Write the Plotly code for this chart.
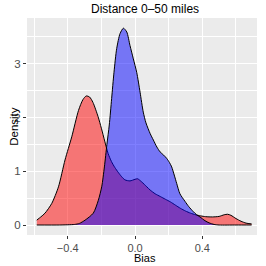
import plotly.graph_objects as go

# Red density (x, y)
red_x = [-0.584, -0.56, -0.535, -0.495, -0.455, -0.416, -0.376, -0.336, -0.31, -0.29, -0.27,
         -0.25, -0.22, -0.20, -0.18, -0.16, -0.14, -0.12, -0.10, -0.08, -0.06, -0.03, 0.0,
         0.015, 0.04, 0.07, 0.09, 0.12, 0.15, 0.18, 0.21, 0.24, 0.27, 0.30, 0.33, 0.36, 0.39,
         0.42, 0.46, 0.50, 0.53, 0.55, 0.57, 0.60, 0.63, 0.66, 0.693]
red_y = [0.09, 0.15, 0.22, 0.40, 0.71, 1.21, 1.64, 2.13, 2.33, 2.40, 2.38,
         2.28, 2.02, 1.80, 1.56, 1.33, 1.18, 1.07, 0.98, 0.90, 0.84, 0.82, 0.85,
         0.86, 0.80, 0.71, 0.65, 0.58, 0.53, 0.48, 0.43, 0.37, 0.31, 0.26, 0.22, 0.19, 0.17,
         0.155, 0.15, 0.16, 0.19, 0.20, 0.18, 0.12, 0.07, 0.035, 0.02]

# Blue density (x, y)
blue_x = [-0.584, -0.45, -0.36, -0.33, -0.297, -0.248, -0.218, -0.198, -0.182, -0.167, -0.153,
          -0.139, -0.125, -0.109, -0.089, -0.069, -0.049, -0.03, -0.01, 0.01, 0.03, 0.049,
          0.065, 0.09, 0.109, 0.13, 0.149, 0.17, 0.188, 0.205, 0.218, 0.233, 0.248, 0.267,
          0.297, 0.32, 0.346, 0.366, 0.386, 0.416, 0.44, 0.47, 0.50, 0.60, 0.693]
blue_y = [0.0, 0.0, 0.01, 0.03, 0.09, 0.22, 0.46, 0.71, 1.08, 1.50, 1.86,
          2.35, 2.84, 3.28, 3.56, 3.66, 3.59, 3.34, 3.09, 2.84, 2.47, 2.10,
          1.90, 1.70, 1.58, 1.45, 1.36, 1.30, 1.24, 1.16, 1.08, 0.93, 0.77, 0.58,
          0.44, 0.34, 0.25, 0.19, 0.15, 0.08, 0.04, 0.01, 0.0, 0.0, 0.0]

x_ticks = [-0.4, 0.0, 0.4]
x_labels = ["\u22120.4", "0.0", "0.4"]
y_ticks = [0, 1, 2, 3]
y_labels = ["0", "1", "2", "3"]

title_text = "Distance 0\u201350 miles"
x_title = "Bias"
y_title = "Density"

FONT = "Liberation Sans, Arial, sans-serif"

fig = go.Figure()
fig.add_trace(go.Scatter(x=red_x, y=red_y, mode="lines", fill="tozeroy",
                         fillcolor="rgba(255,0,0,0.5)",
                         line=dict(color="black", width=1, shape="spline", smoothing=0.7),
                         hoverinfo="skip", showlegend=False))
fig.add_trace(go.Scatter(x=blue_x, y=blue_y, mode="lines", fill="tozeroy",
                         fillcolor="rgba(0,0,255,0.5)",
                         line=dict(color="black", width=1, shape="spline", smoothing=0.7),
                         hoverinfo="skip", showlegend=False))

fig.update_layout(
    template="none",
    width=266, height=266,
    margin=dict(l=27, r=9, t=17.5, b=31, pad=0),
    paper_bgcolor="white", plot_bgcolor="#EBEBEB",
    font=dict(family=FONT),
    xaxis=dict(range=[-0.642, 0.725], tickmode="array", tickvals=x_ticks, ticktext=x_labels,
               automargin=False,
               showgrid=True, gridcolor="white", gridwidth=1.1, zeroline=False,
               ticks="outside", ticklen=3, tickcolor="#333333", tickwidth=1,
               tickfont=dict(size=11, color="#4D4D4D", family=FONT),
               minor=dict(tickmode="array", tickvals=[-0.6, -0.2, 0.2, 0.6], showgrid=True,
                          gridcolor="white", gridwidth=0.5, ticks=""),
               showline=False, fixedrange=True),
    yaxis=dict(range=[-0.186, 3.85], tickmode="array", tickvals=y_ticks, ticktext=y_labels,
               automargin=False,
               showgrid=True, gridcolor="white", gridwidth=1.1, zeroline=False,
               ticks="outside", ticklen=3, tickcolor="#333333", tickwidth=1,
               tickfont=dict(size=11.5, color="#4D4D4D", family=FONT),
               minor=dict(tickmode="array", tickvals=[0.5, 1.5, 2.5, 3.5], showgrid=True,
                          gridcolor="white", gridwidth=0.5, ticks=""),
               showline=False, fixedrange=True),
    annotations=[
        dict(text=title_text, xref="paper", yref="paper", x=(144.5 - 27) / 230,
             y=1 + (17.5 - 8) / 217.5, xanchor="center", yanchor="middle", showarrow=False,
             font=dict(size=12, color="black", family=FONT)),
        dict(text=x_title, xref="paper", yref="paper", x=(144.5 - 27) / 230,
             y=(235 - 258.5) / 217.5, xanchor="center", yanchor="middle", showarrow=False,
             font=dict(size=11, color="black", family=FONT)),
        dict(text=y_title, xref="paper", yref="paper", x=(13.3 - 27) / 230,
             y=0.5, xanchor="center", yanchor="middle", showarrow=False, textangle=-90,
             font=dict(size=11.5, color="black", family=FONT)),
    ],
)

fig.write_html("out.html", config={"displayModeBar": False},
               post_script="document.body.style.margin='0';document.body.style.padding='0';")
